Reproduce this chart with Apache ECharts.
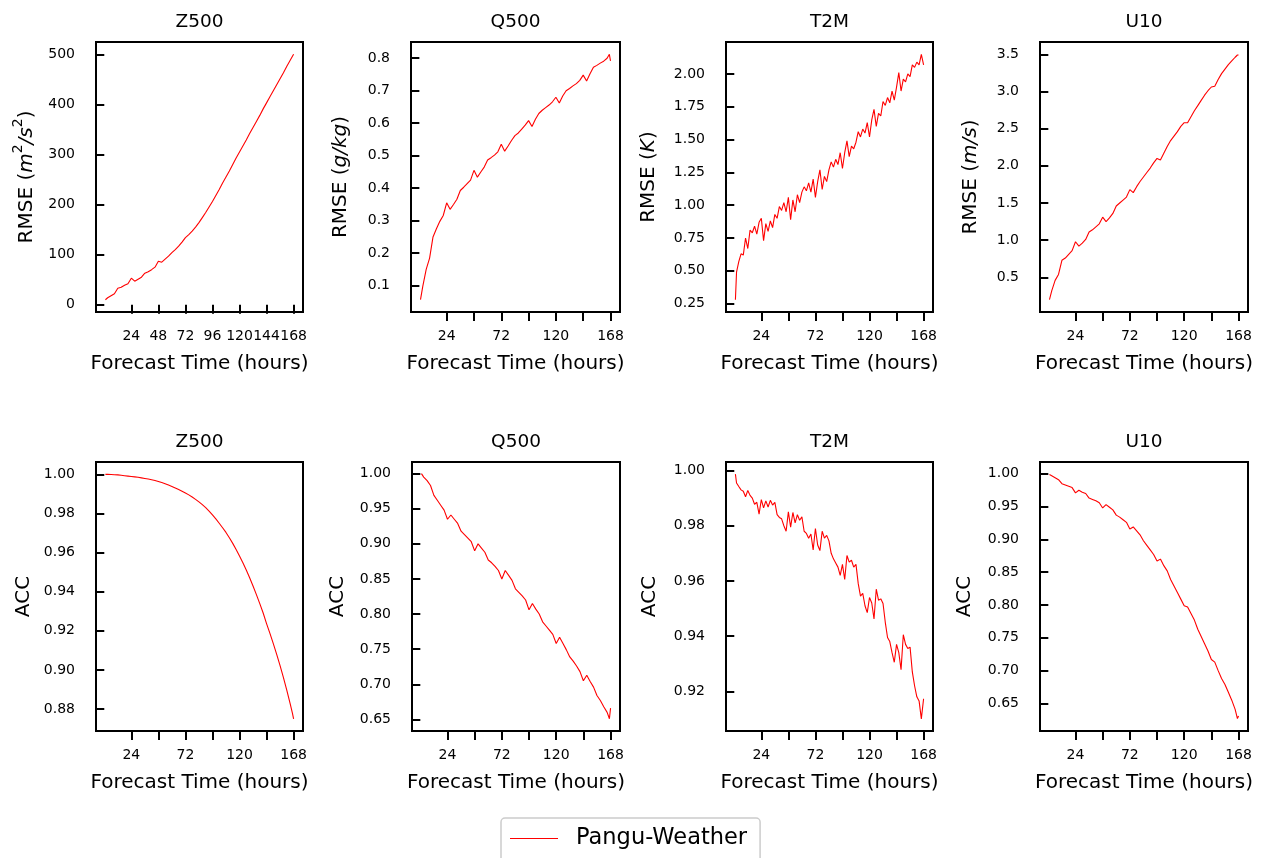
<!DOCTYPE html>
<html><head><meta charset="utf-8">
<script src="https://cdn.jsdelivr.net/npm/echarts@6/dist/echarts.min.js"></script>
<style>html,body{margin:0;padding:0;background:#fff}#c{width:1265px;height:858px}</style>
</head><body><div id="c"></div>
<script>
// Forecast hours (x values)
const hours3 = [1,3,6,9,12,15,18,21, 24,27,30,33,36,39,42,45, 48,51,54,57,60,63,66,69,
  72,75,78,81,84,87,90,93, 96,99,102,105,108,111,114,117, 120,123,126,129,132,135,138,141,
  144,147,150,153,156,159,162,165, 167,168];
const hours2 = [1,2,4,6,8,10,12,14,16,18,20,22,24,
  26,28,30,32,34,36,38,40,42,44,46,48,
  50,52,54,56,58,60,62,64,66,68,70,72,
  74,76,78,80,82,84,86,88,90,92,94,96,
  98,100,102,104,106,108,110,112,114,116,118,120,
  122,124,126,128,130,132,134,136,138,140,142,144,
  146,148,150,152,154,156,158,160,162,164,166,168];

// RMSE series
const z500Rmse = [10,14,18,22,33,35,39,42, 53,47,51,55,63,66,70,75, 87,85,91,97,104,110,117,125,
  134,140,147,155,164,174,184,195, 206,218,230,243,255,267,280,293, 305,317,329,342,354,366,378,391,
  403,415,427,439,451,463,476,488, 496,500];
const q500Rmse = [0.057,0.098,0.150,0.185,0.250,0.275,0.298,0.316,
  0.355,0.335,0.350,0.366,0.393,0.403,0.414,0.425,
  0.455,0.434,0.450,0.465,0.487,0.494,0.502,0.512,
  0.535,0.514,0.530,0.547,0.562,0.570,0.582,0.594,
  0.608,0.590,0.612,0.630,0.640,0.648,0.656,0.666,
  0.680,0.662,0.684,0.700,0.707,0.715,0.722,0.732,
  0.748,0.730,0.752,0.772,0.778,0.785,0.791,0.800,
  0.812,0.792];
const t2mRmse = [0.28,0.49,0.57,0.63,0.62,0.75,0.67,0.81,0.79,0.84,0.78,0.87,0.90,
  0.73,0.86,0.80,0.88,0.83,0.93,0.90,0.99,0.96,1.02,0.95,1.06,
  0.89,1.04,0.95,1.08,1.02,1.10,1.14,1.11,1.17,1.10,1.20,1.06,
  1.18,1.27,1.12,1.22,1.18,1.27,1.33,1.29,1.35,1.31,1.40,1.28,
  1.40,1.49,1.37,1.45,1.43,1.48,1.56,1.52,1.58,1.55,1.63,1.52,
  1.65,1.73,1.60,1.70,1.68,1.79,1.76,1.82,1.78,1.87,1.80,1.90,
  2.01,1.87,1.96,1.94,2.00,1.98,2.07,2.05,2.09,2.07,2.15,2.07];
const u10Rmse = [0.20,0.32,0.46,0.54,0.73,0.76,0.81,0.86,
  0.98,0.92,0.96,1.01,1.11,1.14,1.18,1.22,
  1.31,1.25,1.30,1.36,1.46,1.50,1.54,1.58,
  1.68,1.64,1.72,1.79,1.85,1.91,1.97,2.04,
  2.10,2.08,2.17,2.26,2.34,2.40,2.46,2.53,
  2.58,2.58,2.66,2.74,2.81,2.88,2.95,3.01,
  3.06,3.07,3.16,3.24,3.30,3.36,3.41,3.46,
  3.49,3.49];

// ACC series
const z500Acc = [1.0000,1.0000,0.9999,0.9998,0.9997,0.9995,0.9993,0.9991,
  0.9989,0.9987,0.9985,0.9982,0.9979,0.9976,0.9972,0.9968,
  0.9963,0.9958,0.9952,0.9945,0.9938,0.9930,0.9922,0.9914,
  0.9905,0.9895,0.9884,0.9872,0.9859,0.9845,0.9830,0.9812,
  0.9793,0.9772,0.9750,0.9727,0.9703,0.9676,0.9647,0.9616,
  0.9583,0.9548,0.9511,0.9471,0.9429,0.9385,0.9339,0.9291,
  0.9237,0.9187,0.9135,0.9080,0.9022,0.8961,0.8896,0.8827,
  0.8778,0.8750];
const q500Acc = [1.000,0.995,0.990,0.983,0.969,0.962,0.955,0.948,
  0.935,0.941,0.935,0.929,0.918,0.913,0.908,0.903,
  0.890,0.900,0.894,0.888,0.877,0.873,0.868,0.862,
  0.850,0.862,0.855,0.848,0.836,0.831,0.826,0.820,
  0.806,0.815,0.807,0.800,0.789,0.783,0.777,0.771,
  0.758,0.767,0.758,0.749,0.739,0.733,0.726,0.718,
  0.705,0.713,0.704,0.696,0.684,0.677,0.668,0.660,
  0.651,0.666];
const t2mAcc = [0.9987,0.9955,0.9942,0.9930,0.9925,0.9905,0.9928,0.9910,0.9900,0.9878,0.9885,0.9842,0.9895,
  0.9865,0.9890,0.9868,0.9892,0.9875,0.9885,0.9840,0.9830,0.9825,0.9800,0.9780,0.9850,
  0.9795,0.9848,0.9810,0.9840,0.9820,0.9832,0.9780,0.9772,0.9755,0.9770,0.9712,0.9790,
  0.9730,0.9710,0.9780,0.9755,0.9765,0.9745,0.9700,0.9680,0.9665,0.9650,0.9620,0.9660,
  0.9605,0.9692,0.9668,0.9675,0.9650,0.9660,0.9590,0.9545,0.9555,0.9510,0.9485,0.9540,
  0.9520,0.9462,0.9570,0.9530,0.9535,0.9518,0.9450,0.9395,0.9380,0.9340,0.9305,0.9370,
  0.9340,0.9278,0.9405,0.9370,0.9355,0.9360,0.9270,0.9220,0.9180,0.9165,0.9100,0.9173];
const u10Acc = [0.999,0.997,0.994,0.991,0.985,0.983,0.981,0.979,
  0.971,0.975,0.972,0.970,0.963,0.961,0.959,0.956,
  0.948,0.953,0.949,0.945,0.937,0.934,0.930,0.926,
  0.916,0.919,0.913,0.907,0.898,0.891,0.884,0.877,
  0.867,0.870,0.860,0.852,0.839,0.829,0.819,0.809,
  0.799,0.797,0.787,0.777,0.763,0.752,0.741,0.730,
  0.717,0.713,0.700,0.688,0.679,0.667,0.655,0.641,
  0.627,0.631];

// Tick values
const xTicks = [24,48,72,96,120,144,168];
const xLabelsAll = [24,48,72,96,120,144,168];
const xLabelsSparse = [24,72,120,168];
const z500RmseTicks = [0,100,200,300,400,500];
const q500RmseTicks = [0.1,0.2,0.3,0.4,0.5,0.6,0.7,0.8];
const t2mRmseTicks = [0.25,0.5,0.75,1.0,1.25,1.5,1.75,2.0];
const u10RmseTicks = [0.5,1.0,1.5,2.0,2.5,3.0,3.5];
const z500AccTicks = [0.88,0.90,0.92,0.94,0.96,0.98,1.00];
const q500AccTicks = [0.65,0.70,0.75,0.80,0.85,0.90,0.95,1.00];
const t2mAccTicks = [0.92,0.94,0.96,0.98,1.00];
const u10AccTicks = [0.65,0.70,0.75,0.80,0.85,0.90,0.95,1.00];

const FONT = 'DejaVu Sans';
const seriesName = 'Pangu-Weather';

const panels = [
  {title:'Z500', x:hours3, y:z500Rmse, yMin:-14.5, yMax:524.5, ticks:z500RmseTicks, dec:0, xl:xLabelsAll,
   name:'{n|RMSE (}{i|m}{s|2}{i|/s}{s|2}{n|)}', gap:59, box:{left:96, top:42, width:207, height:270}},
  {title:'Q500', x:hours3, y:q500Rmse, yMin:0.019, yMax:0.850, ticks:q500RmseTicks, dec:1, xl:xLabelsSparse,
   name:'{n|RMSE (}{i|g/kg}{n|)}', gap:60, box:{left:411, top:42, width:209, height:270}},
  {title:'T2M', x:hours2, y:t2mRmse, yMin:0.1865, yMax:2.2435, ticks:t2mRmseTicks, dec:2, xl:xLabelsSparse,
   name:'{n|RMSE (}{i|K}{n|)}', gap:67, box:{left:726, top:42, width:207, height:270}},
  {title:'U10', x:hours3, y:u10Rmse, yMin:0.035, yMax:3.665, ticks:u10RmseTicks, dec:1, xl:xLabelsSparse,
   name:'{n|RMSE (}{i|m/s}{n|)}', gap:59, box:{left:1040, top:42, width:208, height:270}},
  {title:'Z500', x:hours3, y:z500Acc, yMin:0.8688, yMax:1.0063, ticks:z500AccTicks, dec:2, xl:xLabelsSparse,
   name:'{n|ACC}', gap:62, box:{left:96, top:462, width:207, height:269}},
  {title:'Q500', x:hours3, y:q500Acc, yMin:0.6335, yMax:1.0165, ticks:q500AccTicks, dec:2, xl:xLabelsSparse,
   name:'{n|ACC}', gap:64, box:{left:412, top:462, width:208, height:269}},
  {title:'T2M', x:hours2, y:t2mAcc, yMin:0.9056, yMax:1.0031, ticks:t2mAccTicks, dec:2, xl:xLabelsSparse,
   name:'{n|ACC}', gap:66, box:{left:726, top:462, width:207, height:269}},
  {title:'U10', x:hours3, y:u10Acc, yMin:0.608, yMax:1.018, ticks:u10AccTicks, dec:2, xl:xLabelsSparse,
   name:'{n|ACC}', gap:65, box:{left:1040, top:462, width:208, height:269}}
];

const richName = {
  n:{fontSize:20, fontFamily:FONT, color:'#000', lineHeight:26, verticalAlign:'bottom'},
  i:{fontSize:20, fontFamily:FONT, color:'#000', fontStyle:'italic', lineHeight:26, verticalAlign:'bottom'},
  s:{fontSize:14, fontFamily:FONT, color:'#000', lineHeight:14, verticalAlign:'top'}
};

const option = {
  backgroundColor:'#ffffff',
  animation:false,
  textStyle:{fontFamily:FONT},
  title: panels.map(p => ({
    text:p.title, left:p.box.left + p.box.width/2, top:p.box.top - 29, textAlign:'center', padding:0,
    textStyle:{fontFamily:FONT, fontSize:18.5, fontWeight:'normal', color:'#000'}
  })),
  grid: panels.map(p => ({left:p.box.left, top:p.box.top, width:p.box.width, height:p.box.height,
    show:true, borderColor:'#000', borderWidth:2, backgroundColor:'transparent', containLabel:false})),
  xAxis: panels.map((p,i) => ({
    type:'value', gridIndex:i, min:-7.35, max:176.35,
    name:'Forecast Time (hours)', nameLocation:'middle', nameGap:42,
    nameTextStyle:{fontFamily:FONT, fontSize:20, color:'#000', verticalAlign:'top'},
    axisLine:{show:false}, splitLine:{show:false},
    axisTick:{show:true, inside:false, length:9, lineStyle:{color:'#000', width:2}, customValues:xTicks},
    axisLabel:{show:true, margin:17, fontFamily:FONT, fontSize:14, color:'#000', customValues:p.xl,
      formatter:v => String(v)}
  })),
  yAxis: panels.map((p,i) => ({
    type:'value', gridIndex:i, min:p.yMin, max:p.yMax,
    name:p.name, nameLocation:'middle', nameGap:p.gap, nameRotate:90,
    nameTextStyle:{rich:richName},
    axisLine:{show:false}, splitLine:{show:false},
    axisTick:{show:true, inside:false, length:9, lineStyle:{color:'#000', width:2}, customValues:p.ticks},
    axisLabel:{show:true, margin:21, fontFamily:FONT, fontSize:14, color:'#000', customValues:p.ticks,
      formatter:v => Number(v).toFixed(p.dec)}
  })),
  legend:{
    left:501, top:818, orient:'horizontal',
    padding:[9,13,22,9],
    borderColor:'#cccccc', borderWidth:1.5, borderRadius:4, backgroundColor:'#fff',
    itemWidth:48, itemHeight:1.2, icon:'rect',
    textStyle:{fontFamily:FONT, fontSize:22.5, color:'#000', padding:[0,0,0,13]},
    data:[{name:seriesName, itemStyle:{color:'#ff0000'}}]
  },
  series: panels.map((p,i) => ({
    name:seriesName, type:'line', xAxisIndex:i, yAxisIndex:i,
    data:p.x.map((h,k) => [h, p.y[k]]),
    showSymbol:false, symbol:'none', silent:true,
    lineStyle:{color:'#ff0000', width:1.1}, itemStyle:{color:'#ff0000'}
  }))
};

const chart = echarts.init(document.getElementById('c'), null, {renderer:'canvas'});
chart.setOption(option);
</script>
</body></html>
